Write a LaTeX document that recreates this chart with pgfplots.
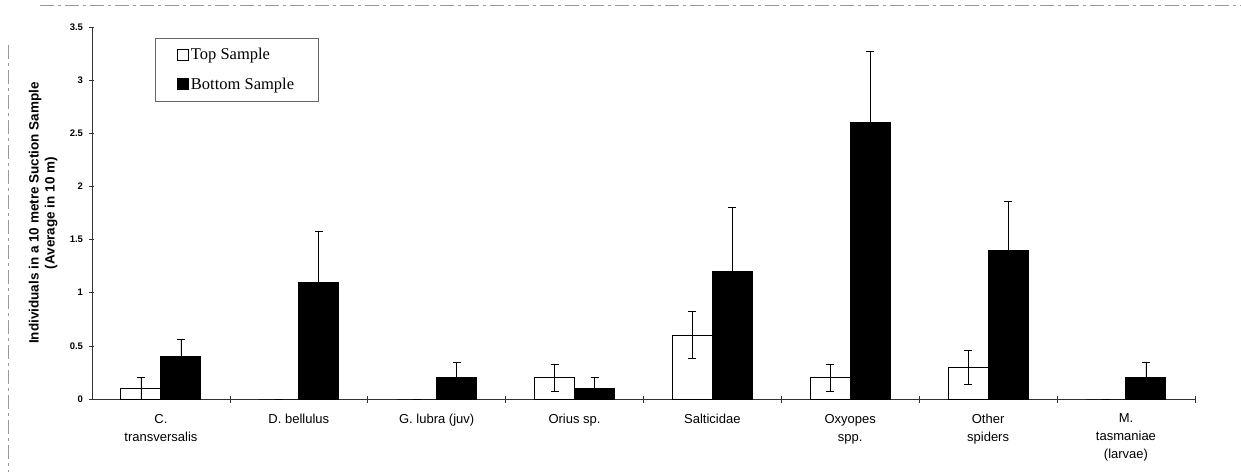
\documentclass[border=0pt]{standalone}
\usepackage{pgfplots}
\pgfplotsset{compat=1.18}
\usepackage{fontspec}
\setmainfont{Liberation Serif}
\newfontfamily\arial{Liberation Sans}

\begin{document}
\begin{tikzpicture}
\useasboundingbox (-92pt,-73pt) rectangle (1149pt,399pt);
\draw[black!40, line width=0.8pt, dash pattern=on 14pt off 4pt on 3pt off 4pt] (-52pt,394pt) -- (1149pt,394pt);
\draw[black!40, line width=0.8pt, dash pattern=on 14pt off 4pt on 3pt off 4pt] (-84pt,354pt) -- (-84pt,-73pt);
\begin{axis}[
  at={(0pt,0pt)}, anchor=south west,
  scale only axis, width=1103pt, height=372pt,
  xmin=-0.5, xmax=7.5, ymin=0, ymax=3.5,
  ybar=0pt, bar width=40pt,
  axis x line*=bottom, axis y line*=left,
  axis line style={-, black!80, line width=0.8pt},
  /pgf/number format/assume math mode=true,
  ytick={0,0.5,1,1.5,2,2.5,3,3.5},
  yticklabels={0,0.5,1,1.5,2,2.5,3,3.5},
  yticklabel style={font=\arial\bfseries\fontsize{9.5}{10}\selectfont, xshift=-3pt},
  major y tick style={black!80, line width=0.6pt},
  xtick={0,1,2,3,4,5,6,7},
  xticklabels={{C.\\transversalis},{D. bellulus},{G. lubra (juv)},{Orius sp.},{Salticidae},{Oxyopes\\spp.},{Other\\spiders},{M.\\tasmaniae\\(larvae)}},
  xticklabel style={font=\arial\fontsize{13}{18}\selectfont, align=center, yshift=-9pt},
  major x tick style={draw=none},
  minor xtick={0.5,1.5,2.5,3.5,4.5,5.5,6.5,7.5},
  minor x tick style={black!80, line width=0.6pt},
  tick align=center, major tick length=5pt, minor tick length=7pt,
  ylabel={Individuals in a 10 metre Suction Sample\\(Average in 10 m)},
  ylabel style={at={(axis description cs:-0.028,0.5)}, anchor=south, align=center, font=\arial\bfseries\fontsize{13.5}{16}\selectfont},
  legend image code/.code={\draw[#1, line width=0.8pt] (0pt,-5pt) rectangle (11pt,6pt);},
  legend style={at={(0.057,0.970)}, anchor=north west, draw=black!60, line width=0.6pt,
    font=\fontsize{16.5}{19}\selectfont, inner xsep=22pt, inner ysep=8pt, row sep=13pt,
    cells={anchor=west}},
  legend cell align=left,
]
\addplot[fill=white, draw=black, line width=1pt,
  error bars/.cd, y dir=both, y explicit,
  error bar style={black, line width=0.8pt},
  error mark options={rotate=90, mark size=4pt, black, line width=0.8pt}]
coordinates {
 (0,0.1) +- (0,0.1)
 (1,0) +- (0,0)
 (2,0) +- (0,0)
 (3,0.2) +- (0,0.13)
 (4,0.6) +- (0,0.22)
 (5,0.2) +- (0,0.13)
 (6,0.3) +- (0,0.16)
 (7,0) +- (0,0)
};
\addlegendentry{Top Sample}
\addplot[fill=black, draw=black, line width=1pt,
  error bars/.cd, y dir=both, y explicit,
  error bar style={black, line width=0.8pt},
  error mark options={rotate=90, mark size=4pt, black, line width=0.8pt}]
coordinates {
 (0,0.4) +- (0,0.16)
 (1,1.1) +- (0,0.48)
 (2,0.2) +- (0,0.14)
 (3,0.1) +- (0,0.1)
 (4,1.2) +- (0,0.6)
 (5,2.6) +- (0,0.67)
 (6,1.4) +- (0,0.46)
 (7,0.2) +- (0,0.14)
};
\addlegendentry{Bottom Sample}
\end{axis}
\end{tikzpicture}
\end{document}
